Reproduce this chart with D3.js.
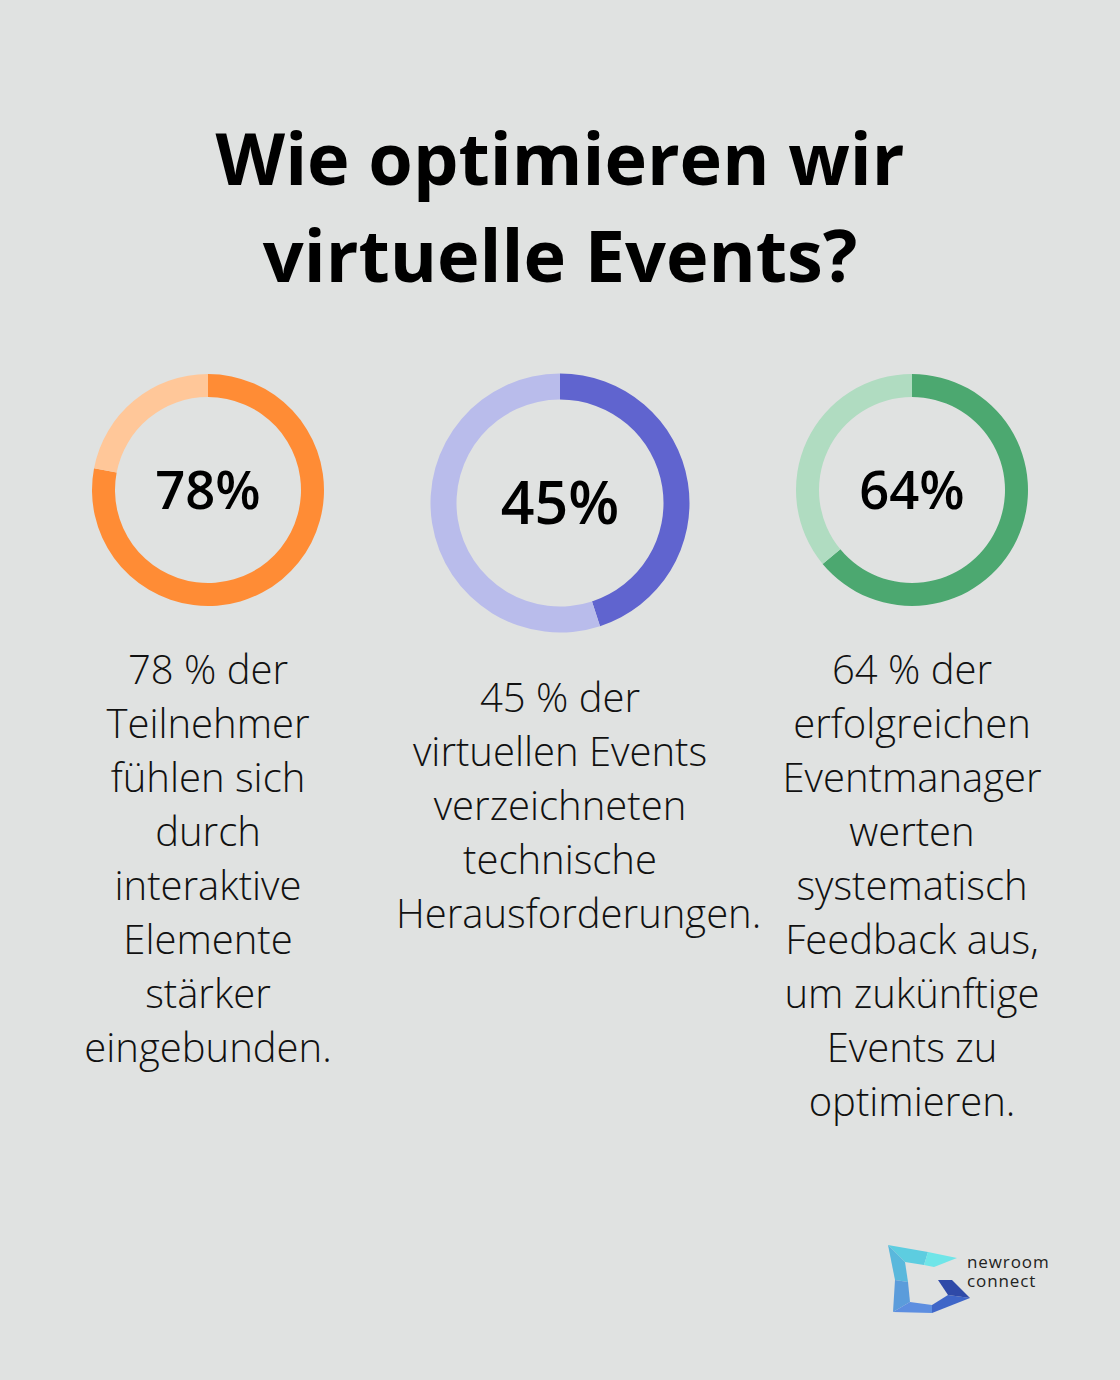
<!DOCTYPE html>
<html>
<head>
<meta charset="utf-8">
<script src="https://cdn.jsdelivr.net/npm/d3@7"></script>
<style>
  body { margin: 0; background: #e0e2e1; }
  svg { display: block; }
</style>
</head>
<body>
<script>
// values
var titleLines = ["Wie optimieren wir", "virtuelle Events?"];
var percents = [78, 45, 64];
var labels = ["78%", "45%", "64%"];
var descriptions = [
  ["78 % der", "Teilnehmer", "fühlen sich", "durch", "interaktive", "Elemente", "stärker", "eingebunden."],
  ["45 % der", "virtuellen Events", "verzeichneten", "technische", "Herausforderungen."],
  ["64 % der", "erfolgreichen", "Eventmanager", "werten", "systematisch", "Feedback aus,", "um zukünftige", "Events zu", "optimieren."]
];
var mainColors = ["#ff8c35", "#6064cf", "#4ca870"];
var restColors = ["#ffc799", "#b9bceb", "#b0dcc1"];

var W = 1120, H = 1380;
var svg = d3.select("body").append("svg")
  .attr("width", W)
  .attr("height", H);

svg.append("rect").attr("width", W).attr("height", H).attr("fill", "#e0e2e1");

// title
svg.append("g").selectAll("text")
  .data(titleLines)
  .join("text")
  .attr("x", W / 2)
  .attr("y", (d, i) => 185 + i * 97)
  .attr("text-anchor", "middle")
  .attr("font-family", "'Open Sans', sans-serif")
  .attr("font-weight", 700)
  .attr("font-size", 72)
  .attr("fill", "#000")
  .text(d => d);

// donuts
var centers = d3.scalePoint().domain(d3.range(3)).range([208, 912]);
var boxHalf = 164; // text column half width; long words spill to the right
var layout = [
  {cy: 490, r: 116, w: 23, fs: 52.5, descY: 684},
  {cy: 503, r: 129.5, w: 26, fs: 59, descY: 712},
  {cy: 490, r: 116, w: 23, fs: 52.5, descY: 684}
];

var pie = d3.pie().sort(null).value(d => d);

percents.forEach(function (p, i) {
  var L = layout[i];
  var cx = centers(i);
  var g = svg.append("g")
    .attr("transform", "translate(" + cx + "," + L.cy + ")");
  var arc = d3.arc().innerRadius(L.r - L.w).outerRadius(L.r);
  g.selectAll("path")
    .data(pie([p, 100 - p]))
    .join("path")
    .attr("d", arc)
    .attr("fill", (d, j) => j === 0 ? mainColors[i] : restColors[i]);

  g.append("text")
    .attr("text-anchor", "middle")
    .attr("dy", "0.36em")
    .attr("font-family", "'Open Sans', sans-serif")
    .attr("font-weight", 600)
    .attr("font-size", L.fs)
    .attr("fill", "#000")
    .text(labels[i]);

  svg.append("g").selectAll("text")
    .data(descriptions[i])
    .join("text")
    .attr("x", cx)
    .attr("y", (d, k) => L.descY + k * 54)
    .attr("text-anchor", "middle")
    .attr("font-family", "'Open Sans', sans-serif")
    .attr("font-weight", 300)
    .attr("font-size", 40)
    .attr("fill", "#111")
    .text(d => d)
    .each(function () {
      var len = this.getComputedTextLength();
      if (len > boxHalf * 2) {
        d3.select(this).attr("text-anchor", "start").attr("x", cx - boxHalf);
      }
    });
});

// logo
var logo = svg.append("g").attr("transform", "translate(888,1245)");
var pieces = [
  {pts: "0,0 40,7 36,20 17,17", c: "#5dcde0"},
  {pts: "40,7 69,13 46,22 36,20", c: "#6fe5e8"},
  {pts: "0,0 17,17 20,37 7,35", c: "#59b8dc"},
  {pts: "7,35 20,37 22,57 5,67", c: "#5b9cdb"},
  {pts: "5,67 22,57 44,60 44,68", c: "#5d8ee0"},
  {pts: "44,60 60,50 82,53 44,68", c: "#3f66c8"},
  {pts: "50,35 64,35 82,53 60,50", c: "#2f4aa8"}
];
logo.selectAll("polygon")
  .data(pieces)
  .join("polygon")
  .attr("points", d => d.pts)
  .attr("fill", d => d.c);

svg.append("g").selectAll("text")
  .data(["newroom", "connect"])
  .join("text")
  .attr("x", 967)
  .attr("y", (d, i) => 1268 + i * 19)
  .attr("font-family", "'Open Sans', sans-serif")
  .attr("font-size", 17)
  .attr("letter-spacing", 0.9)
  .attr("fill", "#222")
  .text(d => d);
</script>
</body>
</html>
